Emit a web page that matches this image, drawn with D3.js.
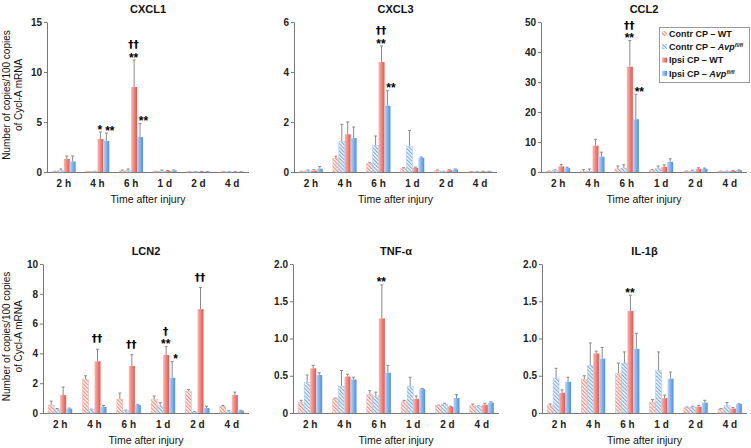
<!DOCTYPE html>
<html>
<head>
<meta charset="utf-8">
<script src="https://cdn.jsdelivr.net/npm/d3@7"></script>
<style>
  body { margin: 0; background: #fff; }
  svg { display: block; font-family: "Liberation Sans", Arial, Helvetica, sans-serif; }
</style>
</head>
<body>
<svg id="chart" width="751" height="448"></svg>
<script>
// categorias y series
const categories = ["2 h", "4 h", "6 h", "1 d", "2 d", "4 d"];
const seriesKeys = ["contrWT", "contrAvp", "ipsiWT", "ipsiAvp"];
const genes = ["CXCL1", "CXCL3", "CCL2", "LCN2", "TNF-α", "IL-1β"];

// medias por gen: [Contr WT, Contr Avp, Ipsi WT, Ipsi Avp]
const cxcl1Mean = [[0.05, 0.03, 0.1, 0.05, 0.02, 0.02], [0.15, 0.05, 0.15, 0.05, 0.02, 0.02], [1.3, 3.3, 8.5, 0.1, 0.05, 0.02], [1.05, 3.1, 3.5, 0.15, 0.03, 0.02]];
const cxcl1Sem  = [[0.02, 0.01, 0.1, 0.02, 0.01, 0.01], [0.15, 0.02, 0.15, 0.15, 0.01, 0.01], [0.3, 0.7, 2.7, 0.05, 0.02, 0.01], [0.55, 0.8, 1.35, 0.05, 0.01, 0.01]];
const cxcl3Mean = [[0.02, 0.56, 0.33, 0.13, 0.05, 0.01], [0.05, 1.22, 1.06, 1.03, 0.02, 0.01], [0.06, 1.51, 4.4, 0.17, 0.07, 0.02], [0.13, 1.36, 2.65, 0.57, 0.1, 0.02]];
const cxcl3Sem  = [[0.01, 0.07, 0.04, 0.04, 0.03, 0.01], [0.03, 0.69, 0.38, 0.63, 0.01, 0.01], [0.03, 0.49, 0.64, 0.03, 0.02, 0.01], [0.09, 0.44, 0.6, 0.03, 0.02, 0.01]];
const ccl2Mean  = [[0.2, 0.3, 1.0, 0.6, 0.2, 0.2], [0.5, 0.3, 1.3, 1.2, 0.3, 0.2], [1.9, 8.8, 35.1, 1.7, 1.1, 0.4], [1.3, 5.1, 17.6, 3.4, 1.1, 0.6]];
const ccl2Sem   = [[0.1, 0.5, 1.0, 0.2, 0.1, 0.1], [0.2, 0.7, 1.1, 0.8, 0.3, 0.1], [0.6, 2.1, 8.7, 0.7, 0.3, 0.1], [0.3, 1.5, 8.3, 1.0, 0.2, 0.1]];
const lcn2Mean  = [[0.53, 2.27, 0.93, 0.91, 1.45, 0.45], [0.25, 0.24, 0.15, 0.47, 0.07, 0.13], [1.2, 3.47, 3.16, 3.9, 6.97, 1.2], [0.29, 0.42, 0.53, 2.36, 0.33, 0.16]];
const lcn2Sem   = [[0.27, 0.23, 0.41, 0.23, 0.13, 0.05], [0.05, 0.02, 0.05, 0.22, 0.03, 0.02], [0.54, 0.81, 0.76, 0.55, 1.45, 0.2], [0.04, 0.08, 0.05, 1.09, 0.12, 0.02]];
const tnfMean   = [[0.14, 0.19, 0.245, 0.15, 0.1, 0.1], [0.41, 0.36, 0.23, 0.36, 0.12, 0.09], [0.6, 0.49, 1.27, 0.19, 0.085, 0.11], [0.51, 0.45, 0.54, 0.32, 0.2, 0.14]];
const tnfSem    = [[0.03, 0.01, 0.055, 0.02, 0.005, 0.02], [0.1, 0.21, 0.05, 0.12, 0.01, 0.005], [0.04, 0.03, 0.45, 0.04, 0.005, 0.02], [0.03, 0.03, 0.1, 0.01, 0.045, 0.01]];
const il1bMean  = [[0.1, 0.45, 0.53, 0.14, 0.07, 0.05], [0.47, 0.64, 0.67, 0.57, 0.08, 0.1], [0.27, 0.8, 1.37, 0.2, 0.085, 0.06], [0.42, 0.73, 0.86, 0.46, 0.14, 0.12]];
const il1bSem   = [[0.02, 0.05, 0.14, 0.04, 0.01, 0.01], [0.13, 0.3, 0.15, 0.25, 0.01, 0.04], [0.04, 0.03, 0.21, 0.04, 0.015, 0.015], [0.06, 0.15, 0.21, 0.09, 0.03, 0.005]];

// ejes Y
const yMax   = [15, 6, 50, 10, 2, 2];
const yTicks = [[0, 5, 10, 15], [0, 2, 4, 6], [0, 10, 20, 30, 40, 50], [0, 2, 4, 6, 8, 10], [0, 0.5, 1, 1.5, 2], [0, 0.5, 1, 1.5, 2]];

// significancia: gen, tiempo, serie, estrellas, cruces
const marks = [
  ["CXCL1", "4 h", 2, "*", ""], ["CXCL1", "4 h", 3, "**", ""],
  ["CXCL1", "6 h", 2, "**", "††"], ["CXCL1", "6 h", 3, "**", ""],
  ["CXCL3", "6 h", 2, "**", "††"], ["CXCL3", "6 h", 3, "**", ""],
  ["CCL2", "6 h", 2, "**", "††"], ["CCL2", "6 h", 3, "**", ""],
  ["LCN2", "4 h", 2, "", "††"], ["LCN2", "6 h", 2, "", "††"],
  ["LCN2", "1 d", 2, "**", "†"], ["LCN2", "1 d", 3, "*", ""],
  ["LCN2", "2 d", 2, "", "††"],
  ["TNF-α", "6 h", 2, "**", ""], ["IL-1β", "6 h", 2, "**", ""]
];

const means = [cxcl1Mean, cxcl3Mean, ccl2Mean, lcn2Mean, tnfMean, il1bMean];
const sems  = [cxcl1Sem, cxcl3Sem, ccl2Sem, lcn2Sem, tnfSem, il1bSem];

// posicion de cada panel
const panels = [
  {x: 47,  top: 22,  bottom: 172, w: 202},
  {x: 294, top: 22,  bottom: 172, w: 203},
  {x: 541, top: 22,  bottom: 172, w: 206},
  {x: 43,  top: 264, bottom: 413, w: 206},
  {x: 293, top: 264, bottom: 413, w: 206},
  {x: 542, top: 264, bottom: 413, w: 205}
];

const svg = d3.select("#chart");
const defs = svg.append("defs");

function gradient(id, c0, c1) {
  const g = defs.append("linearGradient").attr("id", id)
    .attr("x1", 0).attr("x2", 1).attr("y1", 0).attr("y2", 0);
  g.append("stop").attr("offset", "0%").attr("stop-color", c0);
  g.append("stop").attr("offset", "100%").attr("stop-color", c1);
}
gradient("gRed", "#fbb8b1", "#e2554e");
gradient("gBlue", "#bcd6f6", "#4a8fe3");

function hatch(id, color) {
  const p = defs.append("pattern").attr("id", id)
    .attr("patternUnits", "userSpaceOnUse").attr("width", 2.6).attr("height", 2.6)
    .attr("patternTransform", "rotate(-45)");
  p.append("rect").attr("width", 2.6).attr("height", 2.6).attr("fill", "#fff");
  p.append("rect").attr("width", 1.2).attr("height", 2.6).attr("fill", color);
}
hatch("hRed", "#ee8a80");
hatch("hBlue", "#76a9e6");

const fills   = ["url(#hRed)", "url(#hBlue)", "url(#gRed)", "url(#gBlue)"];
const strokes = ["#f3b0a8", "#a9c8ee", "none", "none"];

genes.forEach((gene, gi) => {
  const p = panels[gi];
  const g = svg.append("g");

  const x = d3.scaleBand().domain(categories).range([p.x, p.x + p.w]).padding(0);
  const xs = d3.scaleBand().domain(d3.range(4))
    .range([0, x.bandwidth() * 0.7]);
  const off = x.bandwidth() * 0.15;
  const y = d3.scaleLinear().domain([0, yMax[gi]]).range([p.bottom, p.top]);

  // eje Y
  const fmt = yMax[gi] <= 2 ? (d => d === 0 ? "0" : d3.format(".1f")(d)) : d3.format("d");
  const ax = g.append("g").attr("transform", `translate(${p.x},0)`)
    .call(d3.axisLeft(y).tickValues(yTicks[gi]).tickFormat(fmt).tickSize(3).tickSizeOuter(0));
  ax.select(".domain").attr("stroke", "#777");
  ax.selectAll(".tick line").attr("stroke", "#777");
  ax.selectAll(".tick text").attr("font-size", 10).attr("font-weight", "bold")
    .attr("fill", "#222").attr("x", -5).attr("font-family", "Liberation Sans, Arial, sans-serif");

  // eje X
  g.append("line").attr("x1", p.x).attr("x2", p.x + p.w)
    .attr("y1", p.bottom + 0.5).attr("y2", p.bottom + 0.5).attr("stroke", "#777");
  g.selectAll(".cat").data(categories).enter().append("text")
    .attr("x", d => x(d) + x.bandwidth() / 2)
    .attr("y", p.bottom + 15)
    .attr("text-anchor", "middle").attr("font-size", 10).attr("font-weight", "bold")
    .attr("fill", "#222").text(d => d);

  g.append("text").attr("x", p.x + p.w / 2).attr("y", p.bottom + 31)
    .attr("text-anchor", "middle").attr("font-size", 10.5).attr("fill", "#111")
    .text("Time after injury");

  g.append("text").attr("x", p.x + p.w / 2).attr("y", p.top - 9)
    .attr("text-anchor", "middle").attr("font-size", 11).attr("font-weight", "bold")
    .attr("fill", "#111").text(gene);

  // barras
  const rows = [];
  seriesKeys.forEach((k, si) => {
    categories.forEach((c, ci) => {
      rows.push({si, c, v: means[gi][si][ci], e: sems[gi][si][ci]});
    });
  });

  const bx = d => x(d.c) + off + xs(d.si);
  const bw = xs.bandwidth();

  g.selectAll(".err").data(rows.filter(d => d.e > 0)).enter().append("g").each(function(d) {
    const cx = bx(d) + bw / 2;
    const s = d3.select(this);
    s.append("line").attr("x1", cx).attr("x2", cx).attr("y1", y(d.v)).attr("y2", y(d.v + d.e))
      .attr("stroke", "#8a8a8a").attr("stroke-width", 1);
    s.append("line").attr("x1", cx - 1.5).attr("x2", cx + 1.5).attr("y1", y(d.v + d.e)).attr("y2", y(d.v + d.e))
      .attr("stroke", "#8a8a8a").attr("stroke-width", 1);
  });

  g.selectAll(".bar").data(rows).enter().append("rect")
    .attr("x", bx).attr("width", bw)
    .attr("y", d => y(d.v)).attr("height", d => p.bottom - y(d.v))
    .attr("fill", d => fills[d.si])
    .attr("stroke", d => strokes[d.si]).attr("stroke-width", 0.5);

  // marcas de significancia
  marks.filter(m => m[0] === gene).forEach(m => {
    const ci = categories.indexOf(m[1]);
    const d = {si: m[2], c: m[1]};
    const top = y(means[gi][m[2]][ci] + sems[gi][m[2]][ci]);
    const cx = bx(d) + bw / 2 + (m[2] === 3 ? 3.5 : -0.5);
    if (m[3]) {
      g.append("text").attr("x", cx).attr("y", top + 1.5)
        .attr("text-anchor", "middle").attr("font-size", 12).attr("font-weight", "bold")
        .attr("fill", "#000").text(m[3]);
    }
    if (m[4]) {
      g.append("text").attr("x", cx).attr("y", m[3] ? top - 12 : top - 7)
        .attr("text-anchor", "middle").attr("font-size", 10.5).attr("font-weight", "bold")
        .attr("font-family", "DejaVu Sans, sans-serif")
        .attr("fill", "#000").text(m[4]);
    }
  });

  // titulo del eje Y solo en la primera columna
  if (gi % 3 === 0) {
    const cy = (p.top + p.bottom) / 2 - 2;
    const t = g.append("text").attr("transform", `translate(10,${cy}) rotate(-90)`)
      .attr("text-anchor", "middle").attr("font-size", 10).attr("fill", "#111");
    t.append("tspan").attr("x", 0).attr("dy", 0).text("Number of copies/100 copies");
    t.append("tspan").attr("x", 0).attr("dy", 11.5).text("of Cycl-A mRNA");
  }
});

// leyenda
const legendNames = [["Contr CP – WT", ""], ["Contr CP – ", "Avp"], ["Ipsi CP – WT", ""], ["Ipsi CP – ", "Avp"]];
const lg = svg.append("g").attr("transform", "translate(659,27)");
lg.append("rect").attr("x", 0.5).attr("y", 0.5).attr("width", 90).attr("height", 55)
  .attr("fill", "#fff").attr("stroke", "#999");
legendNames.forEach((n, i) => {
  const ly = 6.5 + i * 13.3;
  lg.append("rect").attr("x", 3).attr("y", ly - 2.5).attr("width", 5).attr("height", 5)
    .attr("fill", fills[i]);
  const t = lg.append("text").attr("x", 10).attr("y", ly + 3.3)
    .attr("font-size", 9).attr("font-weight", "bold").attr("fill", "#111");
  t.append("tspan").text(n[0]);
  if (n[1]) {
    t.append("tspan").attr("font-style", "italic").text(n[1]);
    t.append("tspan").attr("font-style", "italic").attr("font-size", 5.5)
      .attr("dy", -3).text("fl/fl");
  }
});
</script>
</body>
</html>
